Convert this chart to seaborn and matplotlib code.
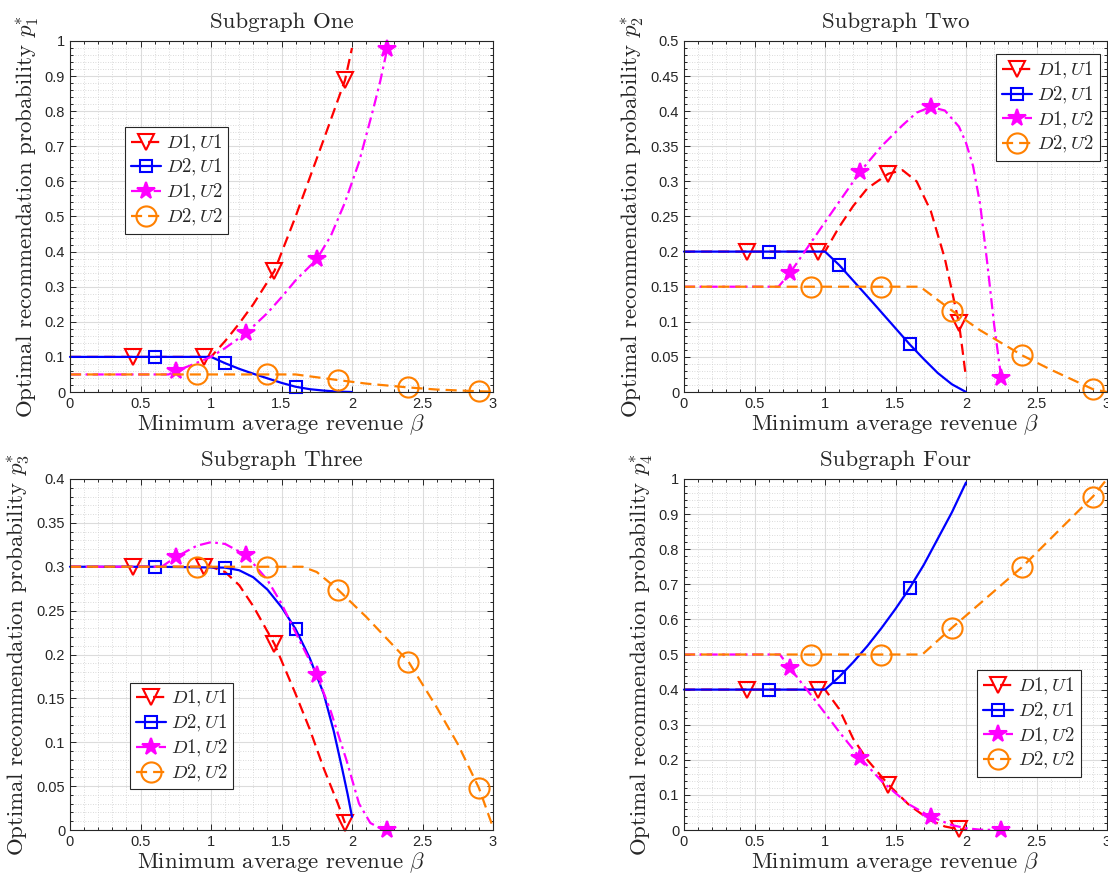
import numpy as np
import matplotlib
matplotlib.use("Agg")
import matplotlib.pyplot as plt
from matplotlib.lines import Line2D
from matplotlib.ticker import MultipleLocator, FormatStrFormatter
import seaborn as sns

# ---------------- data ----------------
labels = ["$D1,U1$", "$D2,U1$", "$D1,U2$", "$D2,U2$"]
titles = ["Subgraph One", "Subgraph Two", "Subgraph Three", "Subgraph Four"]

# beta positions where markers sit
d1u1_marks = [0.45, 0.95, 1.45, 1.95]
d2u1_marks = [0.6, 1.1, 1.6]
d1u2_marks = [0.75, 1.25, 1.75, 2.25]
d2u2_marks = [0.9, 1.4, 1.9, 2.4, 2.9]

# Subgraph One
one_d1u1_x = [0, 0.45, 0.95, 1.0, 1.1, 1.2, 1.3, 1.45, 1.6, 1.7, 1.8, 1.95, 2.0]
one_d1u1_y = [0.1, 0.1, 0.1, 0.1, 0.145, 0.195, 0.25, 0.345, 0.5, 0.61, 0.72, 0.888, 0.98]
one_d2u1_x = [0, 0.6, 1.0, 1.1, 1.2, 1.3, 1.4, 1.5, 1.6, 1.7, 1.8, 1.9, 2.0]
one_d2u1_y = [0.1, 0.1, 0.1, 0.082, 0.066, 0.052, 0.039, 0.026, 0.015, 0.008, 0.004, 0.001, 0.0]
one_d1u2_x = [0, 0.7, 0.75, 0.85, 1.0, 1.1, 1.25, 1.4, 1.5, 1.6, 1.75, 1.85, 1.95, 2.05, 2.1, 2.15, 2.2, 2.25]
one_d1u2_y = [0.05, 0.05, 0.06, 0.075, 0.1, 0.125, 0.168, 0.225, 0.27, 0.318, 0.378, 0.445, 0.54, 0.655, 0.73, 0.805, 0.885, 0.978]
one_d2u2_x = [0, 0.9, 1.4, 1.6, 1.9, 2.1, 2.4, 2.6, 2.9, 3.0]
one_d2u2_y = [0.05, 0.05, 0.05, 0.05, 0.034, 0.024, 0.013, 0.007, 0.002, 0.001]

# Subgraph Two
two_d1u1_x = [0, 0.45, 0.95, 1.0, 1.1, 1.2, 1.3, 1.45, 1.55, 1.65, 1.75, 1.85, 1.91, 1.95, 1.975, 2.0]
two_d1u1_y = [0.2, 0.2, 0.2, 0.2, 0.235, 0.265, 0.29, 0.311, 0.316, 0.3, 0.258, 0.19, 0.135, 0.098, 0.06, 0.02]
two_d2u1_x = [0, 0.6, 1.0, 1.1, 1.35, 1.6, 1.7, 1.8, 1.9, 2.0]
two_d2u1_y = [0.2, 0.2, 0.2, 0.181, 0.125, 0.068, 0.047, 0.027, 0.011, 0.0]
two_d1u2_x = [0, 0.67, 0.75, 1.0, 1.25, 1.4, 1.55, 1.65, 1.75, 1.85, 1.95, 2.0, 2.05, 2.1, 2.15, 2.2, 2.25]
two_d1u2_y = [0.15, 0.15, 0.169, 0.242, 0.314, 0.35, 0.38, 0.398, 0.406, 0.401, 0.378, 0.355, 0.322, 0.268, 0.185, 0.095, 0.02]
two_d2u2_x = [0, 0.9, 1.4, 1.675, 1.9, 2.1, 2.4, 2.6, 2.9, 3.0]
two_d2u2_y = [0.15, 0.15, 0.15, 0.15, 0.116, 0.088, 0.052, 0.032, 0.004, 0.0]

# Subgraph Three
three_d1u1_x = [0, 0.45, 0.95, 1.0, 1.1, 1.2, 1.3, 1.45, 1.6, 1.7, 1.8, 1.9, 1.95]
three_d1u1_y = [0.3, 0.3, 0.3, 0.3, 0.294, 0.279, 0.255, 0.212, 0.155, 0.115, 0.07, 0.03, 0.008]
three_d2u1_x = [0, 0.6, 1.1, 1.2, 1.3, 1.4, 1.5, 1.6, 1.7, 1.8, 1.87, 1.93, 1.97, 2.0]
three_d2u1_y = [0.3, 0.3, 0.299, 0.296, 0.288, 0.274, 0.254, 0.229, 0.196, 0.155, 0.113, 0.07, 0.04, 0.015]
three_d1u2_x = [0, 0.65, 0.75, 0.9, 1.0, 1.1, 1.25, 1.4, 1.5, 1.6, 1.75, 1.85, 1.96, 2.05, 2.13, 2.2, 2.25]
three_d1u2_y = [0.3, 0.3, 0.311, 0.324, 0.328, 0.326, 0.313, 0.285, 0.258, 0.225, 0.177, 0.135, 0.08, 0.03, 0.008, 0.002, 0.0]
three_d2u2_x = [0, 0.9, 1.4, 1.65, 1.75, 1.9, 2.1, 2.4, 2.6, 2.75, 2.9, 3.0]
three_d2u2_y = [0.3, 0.3, 0.3, 0.3, 0.294, 0.274, 0.243, 0.192, 0.14, 0.098, 0.048, 0.003]

# Subgraph Four
four_d1u1_x = [0, 0.45, 0.95, 1.0, 1.1, 1.2, 1.3, 1.45, 1.6, 1.75, 1.85, 1.95, 2.0]
four_d1u1_y = [0.4, 0.4, 0.4, 0.4, 0.345, 0.26, 0.2, 0.129, 0.07, 0.027, 0.01, 0.002, 0.0]
four_d2u1_x = [0, 0.6, 1.0, 1.1, 1.2, 1.3, 1.4, 1.5, 1.6, 1.7, 1.8, 1.9, 2.0]
four_d2u1_y = [0.4, 0.4, 0.4, 0.436, 0.478, 0.524, 0.575, 0.63, 0.689, 0.755, 0.83, 0.905, 0.99]
four_d1u2_x = [0, 0.68, 0.75, 0.9, 1.0, 1.1, 1.25, 1.4, 1.5, 1.6, 1.75, 1.9, 2.0, 2.1, 2.25]
four_d1u2_y = [0.5, 0.5, 0.462, 0.385, 0.333, 0.28, 0.205, 0.14, 0.105, 0.072, 0.038, 0.014, 0.005, 0.001, 0.0]
four_d2u2_x = [0, 0.9, 1.4, 1.69, 1.9, 2.4, 2.9, 3.0]
four_d2u2_y = [0.5, 0.5, 0.5, 0.5, 0.576, 0.75, 0.95, 1.0]

ylims = [(0, 1), (0, 0.5), (0, 0.4), (0, 1)]
ymajor = [0.1, 0.05, 0.05, 0.1]
yminor = [0.02, 0.01, 0.01, 0.02]
legend_pos = [("upper left", (0.13, 0.755)), ("upper left", (0.738, 0.962)),
              ("upper left", (0.142, 0.42)), ("upper left", (0.693, 0.455))]

# ---------------- style ----------------
sns.set_style("ticks")
plt.rcParams["mathtext.fontset"] = "cm"
plt.rcParams["font.family"] = ["Liberation Sans", "DejaVu Sans"]
plt.rcParams["axes.unicode_minus"] = False

colors = ["#ff0000", "#0000ff", "#ff00ff", "#ff8000"]
styles = [(0, (5, 2.7)), "-", (0, (5, 2, 1.2, 2)), (0, (5, 2.7))]
markers = ["v", "s", "*", "o"]
msizes = [12, 8.5, 13, 14.5]
mfaces = ["none", "none", "#ff00ff", "none"]
all_marks = [d1u1_marks, d2u1_marks, d1u2_marks, d2u2_marks]

series = [
    [(one_d1u1_x, one_d1u1_y), (one_d2u1_x, one_d2u1_y), (one_d1u2_x, one_d1u2_y), (one_d2u2_x, one_d2u2_y)],
    [(two_d1u1_x, two_d1u1_y), (two_d2u1_x, two_d2u1_y), (two_d1u2_x, two_d1u2_y), (two_d2u2_x, two_d2u2_y)],
    [(three_d1u1_x, three_d1u1_y), (three_d2u1_x, three_d2u1_y), (three_d1u2_x, three_d1u2_y), (three_d2u2_x, three_d2u2_y)],
    [(four_d1u1_x, four_d1u1_y), (four_d2u1_x, four_d2u1_y), (four_d1u2_x, four_d1u2_y), (four_d2u2_x, four_d2u2_y)],
]

fig = plt.figure(figsize=(11.08, 8.82), dpi=100)
W, H = 1108, 882
boxes = [(70, 41), (684, 41), (70, 479), (684, 479)]
aw, ah = 423, 351

label_font = {"family": "cmr10", "size": 16.5}
axcol = "#262626"

for k in range(4):
    x0, y0 = boxes[k]
    ax = fig.add_axes([x0 / W, 1 - (y0 + ah) / H, aw / W, ah / H])
    for j in range(4):
        xs, ys = series[k][j]
        idx = [i for i, v in enumerate(xs) if any(np.isclose(v, m) for m in all_marks[j])]
        sns.lineplot(x=xs, y=ys, ax=ax, color=colors[j], linestyle=styles[j],
                     linewidth=1.6, marker=markers[j], markevery=idx,
                     markersize=msizes[j], markerfacecolor=mfaces[j],
                     markeredgecolor=colors[j], markeredgewidth=1.5,
                     estimator=None, sort=False, legend=False, clip_on=False)
    ax.set_xlim(0, 3)
    ax.set_ylim(*ylims[k])
    ax.xaxis.set_major_locator(MultipleLocator(0.5))
    ax.xaxis.set_minor_locator(MultipleLocator(0.1))
    ax.yaxis.set_major_locator(MultipleLocator(ymajor[k]))
    ax.yaxis.set_minor_locator(MultipleLocator(yminor[k]))
    ax.xaxis.set_major_formatter(FormatStrFormatter("%g"))
    ax.yaxis.set_major_formatter(FormatStrFormatter("%g"))
    ax.grid(which="major", color="#dcdcdc", linewidth=0.8, linestyle="-")
    ax.grid(which="minor", color="#cfcfcf", linewidth=0.6, linestyle=(0, (1, 2)))
    ax.set_axisbelow(True)
    ax.tick_params(which="both", direction="in", top=True, right=True,
                   colors=axcol, labelsize=10.5, width=0.7)
    ax.tick_params(which="major", length=4)
    ax.tick_params(which="minor", length=2)
    for sp in ax.spines.values():
        sp.set_color(axcol)
        sp.set_linewidth(0.8)
    ax.set_title(titles[k], fontdict=label_font, pad=9)
    ax.set_xlabel(r"Minimum average revenue $\beta$", fontdict=label_font, labelpad=1)
    ax.set_ylabel(r"Optimal recommendation probability $p_{%d}^{*}$" % (k + 1),
                  fontdict=label_font, labelpad=3)

    handles = [Line2D([], [], color=colors[j], linestyle=styles[j], linewidth=1.6,
                      marker=markers[j], markersize=msizes[j],
                      markerfacecolor=mfaces[j], markeredgecolor=colors[j],
                      markeredgewidth=1.5) for j in range(4)]
    loc, anchor = legend_pos[k]
    leg = ax.legend(handles, labels, loc=loc, bbox_to_anchor=anchor,
                    fontsize=13.5, fancybox=False, framealpha=1,
                    edgecolor=axcol, handlelength=1.6, handletextpad=0.3,
                    borderpad=0.3, labelspacing=0.2, borderaxespad=0)
    leg.get_frame().set_linewidth(0.8)

fig.savefig("out.png", dpi=100)
